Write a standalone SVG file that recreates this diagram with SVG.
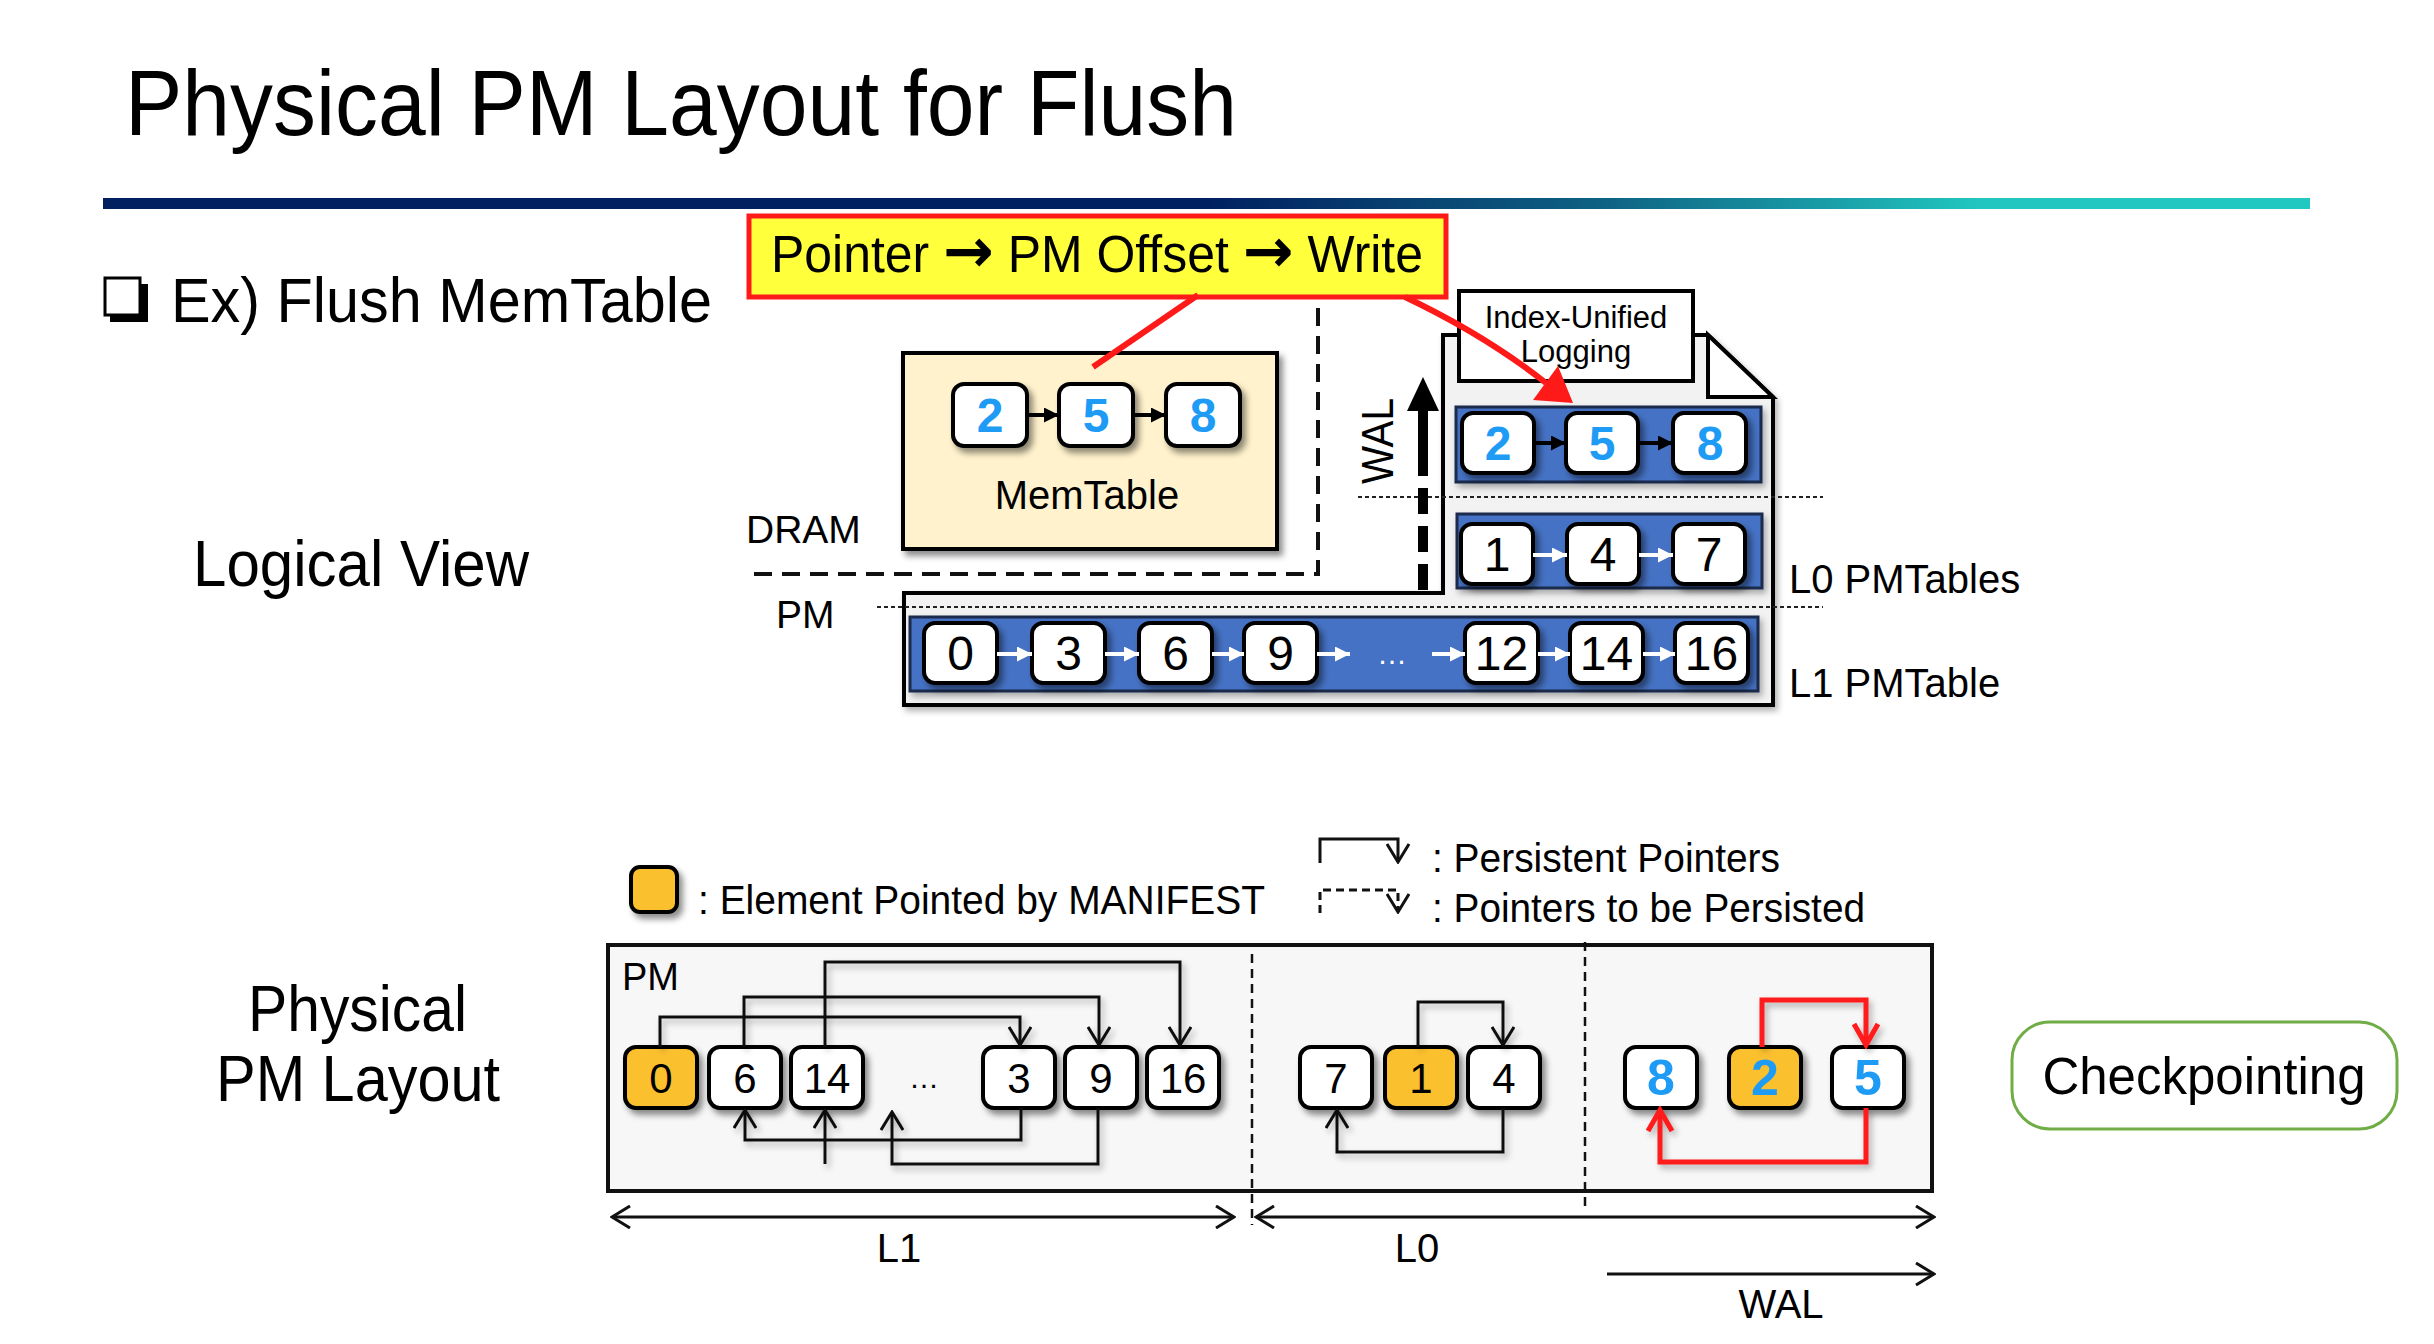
<svg xmlns="http://www.w3.org/2000/svg" width="2434" height="1344" viewBox="0 0 2434 1344">
<defs>
<style>
.t{font-family:"Liberation Sans",Arial,sans-serif;fill:#000}
.node{fill:#fff;stroke:#000;stroke-width:4}
.org{fill:#FBC02D;stroke:#000;stroke-width:4}
.bar{fill:#4472C4;stroke:#1B2B4B;stroke-width:3}
.dg{font-family:"Liberation Sans",Arial,sans-serif;text-anchor:middle;fill:#000}
.bl{font-weight:bold;fill:#1E9BF5}
.ln{fill:none;stroke:#111;stroke-width:3}
.red{fill:none;stroke:#FF1A1A;stroke-width:5}
.dash{fill:none;stroke:#111;stroke-width:4;stroke-dasharray:18 10}
.dot{fill:none;stroke:#222;stroke-width:2;stroke-dasharray:4 3}
.sep{fill:none;stroke:#111;stroke-width:2.5;stroke-dasharray:9 6}
.arr{font-family:"DejaVu Sans",sans-serif;font-weight:bold;font-size:62px}
</style>
<linearGradient id="bar" x1="0" y1="0" x2="1" y2="0">
<stop offset="0" stop-color="#012060"/>
<stop offset="0.5" stop-color="#012060"/>
<stop offset="0.68" stop-color="#0E6283"/>
<stop offset="0.85" stop-color="#21C6C0"/>
<stop offset="1" stop-color="#21C8C1"/>
</linearGradient>
<filter id="sh" x="-20%" y="-20%" width="150%" height="160%">
<feDropShadow dx="4" dy="5" stdDeviation="3" flood-color="#000" flood-opacity="0.45"/>
</filter>
<filter id="shl" x="-10%" y="-10%" width="130%" height="130%">
<feDropShadow dx="3" dy="4" stdDeviation="3" flood-color="#000" flood-opacity="0.3"/>
</filter>
<marker id="ov" viewBox="0 0 22 24" refX="20" refY="12" markerWidth="22" markerHeight="24" markerUnits="userSpaceOnUse" orient="auto-start-reverse">
<path d="M2,1 L20,12 L2,23" fill="none" stroke="#111" stroke-width="3"/>
</marker>
<marker id="ovr" viewBox="0 0 28 30" refX="24" refY="15" markerWidth="28" markerHeight="30" markerUnits="userSpaceOnUse" orient="auto">
<path d="M3,3 L24,15 L3,27" fill="none" stroke="#FF1A1A" stroke-width="5"/>
</marker>
<marker id="fb" viewBox="0 0 15 15" refX="15" refY="7.5" markerWidth="15" markerHeight="15" markerUnits="userSpaceOnUse" orient="auto">
<path d="M0,0 L15,7.5 L0,15 Z" fill="#000"/>
</marker>
<marker id="fw" viewBox="0 0 15 15" refX="15" refY="7.5" markerWidth="15" markerHeight="15" markerUnits="userSpaceOnUse" orient="auto">
<path d="M0,0 L15,7.5 L0,15 Z" fill="#fff"/>
</marker>
</defs>
<rect x="0" y="0" width="2434" height="1344" fill="#fff"/>

<g id="title">
<text class="t" x="125" y="135" font-size="93" textLength="1112" lengthAdjust="spacingAndGlyphs">Physical PM Layout for Flush</text>
<rect x="103" y="198" width="2207" height="11" fill="url(#bar)"/>
</g>

<g id="subtitle">
<rect x="105" y="278" width="35" height="37" fill="#fff" stroke="#000" stroke-width="3"/>
<path d="M141,284 H148 V322 H110 V316 H141 Z" fill="#000"/>
<text class="t" x="171" y="322" font-size="63" textLength="541" lengthAdjust="spacingAndGlyphs">Ex) Flush MemTable</text>
</g>

<g id="label-logical">
<text class="t" x="193" y="586" font-size="65" textLength="336" lengthAdjust="spacingAndGlyphs">Logical View</text>
</g>
<g id="label-physical">
<text class="t" x="248" y="1031" font-size="64" textLength="219" lengthAdjust="spacingAndGlyphs">Physical</text>
<text class="t" x="216" y="1101" font-size="64" textLength="284" lengthAdjust="spacingAndGlyphs">PM Layout</text>
</g>

<g id="dram-pm">
<path class="dash" d="M1318,308 V574 H745"/>
<text class="t" x="746" y="543" font-size="39">DRAM</text>
<text class="t" x="776" y="628" font-size="39">PM</text>
</g>

<g id="pmtables">
<path d="M904,593 H1443 V335 H1708 L1773,397 V705 H904 Z" fill="#F2F2F2" stroke="#000" stroke-width="4" filter="url(#shl)"/>
<path d="M1708,335 V397 H1773 Z" fill="#fff" stroke="#000" stroke-width="4"/>
<path class="dot" d="M1358,497 H1823"/>
<path class="dot" d="M877,607 H1823"/>
</g>

<g id="index-unified">
<rect x="1459" y="291" width="234" height="90" fill="#fff" stroke="#000" stroke-width="4"/>
<text class="t" x="1576" y="328" font-size="31" text-anchor="middle">Index-Unified</text>
<text class="t" x="1576" y="362" font-size="31" text-anchor="middle">Logging</text>
</g>

<g id="memtable">
<rect x="903" y="353" width="374" height="196" fill="#FFF2CC" stroke="#000" stroke-width="4" filter="url(#sh)"/>
<rect class="node" x="953" y="384" width="74" height="62" rx="11" filter="url(#sh)"/>
<rect class="node" x="1059" y="384" width="74" height="62" rx="11" filter="url(#sh)"/>
<rect class="node" x="1166" y="384" width="74" height="62" rx="11" filter="url(#sh)"/>
<text class="dg bl" x="990" y="432" font-size="48">2</text>
<text class="dg bl" x="1096" y="432" font-size="48">5</text>
<text class="dg bl" x="1203" y="432" font-size="48">8</text>
<text class="t" x="1087" y="509" font-size="40" text-anchor="middle">MemTable</text>
</g>

<g id="wal-table">
<rect class="bar" x="1456" y="407" width="305" height="75" filter="url(#shl)"/>
<rect class="node" x="1462" y="413" width="72" height="60" rx="11" filter="url(#sh)"/>
<rect class="node" x="1566" y="413" width="72" height="60" rx="11" filter="url(#sh)"/>
<rect class="node" x="1673" y="413" width="73" height="60" rx="11" filter="url(#sh)"/>
<text class="dg bl" x="1498" y="460" font-size="48">2</text>
<text class="dg bl" x="1602" y="460" font-size="48">5</text>
<text class="dg bl" x="1710" y="460" font-size="48">8</text>
</g>

<g id="l0-table">
<rect class="bar" x="1457" y="514" width="305" height="74" filter="url(#shl)"/>
<rect class="node" x="1461" y="524" width="72" height="60" rx="11" filter="url(#sh)"/>
<rect class="node" x="1567" y="524" width="72" height="60" rx="11" filter="url(#sh)"/>
<rect class="node" x="1673" y="524" width="72" height="60" rx="11" filter="url(#sh)"/>
<text class="dg" x="1497" y="571" font-size="48">1</text>
<text class="dg" x="1603" y="571" font-size="48">4</text>
<text class="dg" x="1709" y="571" font-size="48">7</text>
<text class="t" x="1789" y="593" font-size="40">L0 PMTables</text>
</g>

<g id="l1-table">
<rect class="bar" x="910" y="617" width="848" height="74" filter="url(#shl)"/>
<rect class="node" x="924" y="623" width="73" height="60" rx="11" filter="url(#sh)"/>
<rect class="node" x="1032" y="623" width="73" height="60" rx="11" filter="url(#sh)"/>
<rect class="node" x="1139" y="623" width="73" height="60" rx="11" filter="url(#sh)"/>
<rect class="node" x="1244" y="623" width="73" height="60" rx="11" filter="url(#sh)"/>
<rect class="node" x="1465" y="623" width="73" height="60" rx="11" filter="url(#sh)"/>
<rect class="node" x="1570" y="623" width="73" height="60" rx="11" filter="url(#sh)"/>
<rect class="node" x="1675" y="623" width="73" height="60" rx="11" filter="url(#sh)"/>
<text class="dg" x="960.5" y="670" font-size="48">0</text>
<text class="dg" x="1068.5" y="670" font-size="48">3</text>
<text class="dg" x="1175.5" y="670" font-size="48">6</text>
<text class="dg" x="1280.5" y="670" font-size="48">9</text>
<text class="dg" x="1392" y="664" font-size="30" style="fill:#fff">…</text>
<text class="dg" x="1501.5" y="670" font-size="48">12</text>
<text class="dg" x="1606.5" y="670" font-size="48">14</text>
<text class="dg" x="1711.5" y="670" font-size="48">16</text>
<text class="t" x="1789" y="697" font-size="40">L1 PMTable</text>
</g>

<g id="wal-label">
<text class="t" transform="translate(1393,441) rotate(-90)" font-size="44" text-anchor="middle" textLength="86" lengthAdjust="spacingAndGlyphs">WAL</text>
</g>

<g id="callout">
<rect x="749" y="216" width="697" height="81" fill="#FFFF3B" stroke="#FF1A1A" stroke-width="5"/>
<text class="t" x="771" y="272" font-size="51" textLength="652" lengthAdjust="spacingAndGlyphs">Pointer <tspan class="arr">→</tspan> PM Offset <tspan class="arr">→</tspan> Write</text>
</g>

<g id="legend">
<rect class="org" x="631" y="867" width="46" height="45" rx="9" stroke-width="3" filter="url(#sh)"/>
<text class="t" x="698" y="914" font-size="40" textLength="567" lengthAdjust="spacingAndGlyphs">: Element Pointed by MANIFEST</text>
<path class="ln" d="M1320,863 V839 H1398 V862" marker-end="url(#ov)"/>
<path class="ln" d="M1320,913 V890 H1398 V912" stroke-dasharray="8 5" marker-end="url(#ov)"/>
<text class="t" x="1432" y="872" font-size="40" textLength="348" lengthAdjust="spacingAndGlyphs">: Persistent Pointers</text>
<text class="t" x="1432" y="922" font-size="40" textLength="433" lengthAdjust="spacingAndGlyphs">: Pointers to be Persisted</text>
</g>

<g id="pm-layout">
<rect x="608" y="945" width="1324" height="246" fill="#F7F7F7" stroke="#111" stroke-width="4"/>
<text class="t" x="622" y="990" font-size="38">PM</text>
<path class="sep" d="M1252,954 V1225"/>
<path class="sep" d="M1585,942 V1212"/>
</g>

<g id="l1-nodes">
<rect class="org" x="625" y="1047" width="72" height="61" rx="11" filter="url(#sh)"/>
<rect class="node" x="709" y="1047" width="72" height="61" rx="11" filter="url(#sh)"/>
<rect class="node" x="791" y="1047" width="72" height="61" rx="11" filter="url(#sh)"/>
<rect class="node" x="983" y="1047" width="72" height="61" rx="11" filter="url(#sh)"/>
<rect class="node" x="1065" y="1047" width="72" height="61" rx="11" filter="url(#sh)"/>
<rect class="node" x="1147" y="1047" width="72" height="61" rx="11" filter="url(#sh)"/>
<text class="dg" x="661" y="1093" font-size="42">0</text>
<text class="dg" x="745" y="1093" font-size="42">6</text>
<text class="dg" x="827" y="1093" font-size="42">14</text>
<text class="dg" x="924" y="1088" font-size="30">…</text>
<text class="dg" x="1019" y="1093" font-size="42">3</text>
<text class="dg" x="1101" y="1093" font-size="42">9</text>
<text class="dg" x="1183" y="1093" font-size="42">16</text>
</g>

<g id="l0-nodes">
<rect class="node" x="1300" y="1047" width="72" height="61" rx="11" filter="url(#sh)"/>
<rect class="org" x="1385" y="1047" width="72" height="61" rx="11" filter="url(#sh)"/>
<rect class="node" x="1468" y="1047" width="72" height="61" rx="11" filter="url(#sh)"/>
<text class="dg" x="1336" y="1093" font-size="42">7</text>
<text class="dg" x="1421" y="1093" font-size="42">1</text>
<text class="dg" x="1504" y="1093" font-size="42">4</text>
</g>

<g id="wal-nodes">
<rect class="node" x="1625" y="1047" width="72" height="61" rx="11" filter="url(#sh)"/>
<rect class="org" x="1729" y="1047" width="72" height="61" rx="11" filter="url(#sh)"/>
<rect class="node" x="1832" y="1047" width="72" height="61" rx="11" filter="url(#sh)"/>
<text class="dg bl" x="1661" y="1095" font-size="50">8</text>
<text class="dg bl" x="1765" y="1095" font-size="50">2</text>
<text class="dg bl" x="1868" y="1095" font-size="50">5</text>
</g>

<g id="checkpointing">
<rect x="2012" y="1022" width="385" height="107" rx="38" fill="#fff" stroke="#70AD47" stroke-width="3"/>
<text class="t" x="2204" y="1094" font-size="51" text-anchor="middle">Checkpointing</text>
</g>

<g id="axes">
<path class="ln" d="M612,1217 H1234" marker-start="url(#ov)" marker-end="url(#ov)"/>
<path class="ln" d="M1256,1217 H1934" marker-start="url(#ov)" marker-end="url(#ov)"/>
<path class="ln" d="M1607,1274 H1934" marker-end="url(#ov)"/>
<text class="t" x="899" y="1262" font-size="40" text-anchor="middle">L1</text>
<text class="t" x="1417" y="1262" font-size="40" text-anchor="middle">L0</text>
<text class="t" x="1781" y="1318" font-size="40" text-anchor="middle">WAL</text>
</g>

<g id="connectors">
<path d="M1027,415 H1059" stroke="#000" stroke-width="4" marker-end="url(#fb)"/>
<path d="M1133,415 H1166" stroke="#000" stroke-width="4" marker-end="url(#fb)"/>
<path d="M1534,443 H1566" stroke="#000" stroke-width="4" marker-end="url(#fb)"/>
<path d="M1638,443 H1673" stroke="#000" stroke-width="4" marker-end="url(#fb)"/>
<path d="M1533,555 H1567" stroke="#fff" stroke-width="4" marker-end="url(#fw)"/>
<path d="M1639,555 H1673" stroke="#fff" stroke-width="4" marker-end="url(#fw)"/>
<path d="M997,654 H1032" stroke="#fff" stroke-width="4" marker-end="url(#fw)"/>
<path d="M1105,654 H1139" stroke="#fff" stroke-width="4" marker-end="url(#fw)"/>
<path d="M1212,654 H1244" stroke="#fff" stroke-width="4" marker-end="url(#fw)"/>
<path d="M1317,654 H1350" stroke="#fff" stroke-width="4" marker-end="url(#fw)"/>
<path d="M1432,654 H1465" stroke="#fff" stroke-width="4" marker-end="url(#fw)"/>
<path d="M1538,654 H1570" stroke="#fff" stroke-width="4" marker-end="url(#fw)"/>
<path d="M1643,654 H1675" stroke="#fff" stroke-width="4" marker-end="url(#fw)"/>
<path d="M1423,590 V405" stroke="#000" stroke-width="10" fill="none" stroke-dasharray="26 12 26 12 26 12 300"/>
<path d="M1423,377 L1439,411 L1407,411 Z" fill="#000"/>
<path d="M1198,295 L1093,367" stroke="#FF1A1A" stroke-width="6" fill="none"/>
<path d="M1405,297 Q1485,335 1546,383" stroke="#FF1A1A" stroke-width="6" fill="none"/>
<path d="M1573,403 L1533,400 L1558,366 Z" fill="#FF1A1A"/>
<g filter="url(#shl)">
<path class="ln" d="M660,1047 V1017 H1020 V1045" marker-end="url(#ov)"/>
<path class="ln" d="M744,1047 V997 H1099 V1045" marker-end="url(#ov)"/>
<path class="ln" d="M825,1047 V962 H1180 V1045" marker-end="url(#ov)"/>
<path class="ln" d="M1021,1108 V1140 H745 V1110" marker-end="url(#ov)"/>
<path class="ln" d="M1098,1108 V1164 H892 V1112" marker-end="url(#ov)"/>
<path class="ln" d="M825,1164 V1110" marker-end="url(#ov)"/>
<path class="ln" d="M1418,1047 V1002 H1503 V1045" marker-end="url(#ov)"/>
<path class="ln" d="M1503,1108 V1152 H1337 V1110" marker-end="url(#ov)"/>
<path class="red" d="M1762,1047 V1000 H1866 V1045" marker-end="url(#ovr)"/>
<path class="red" d="M1866,1108 V1162 H1660 V1110" marker-end="url(#ovr)"/>
</g>
</g>
</svg>
